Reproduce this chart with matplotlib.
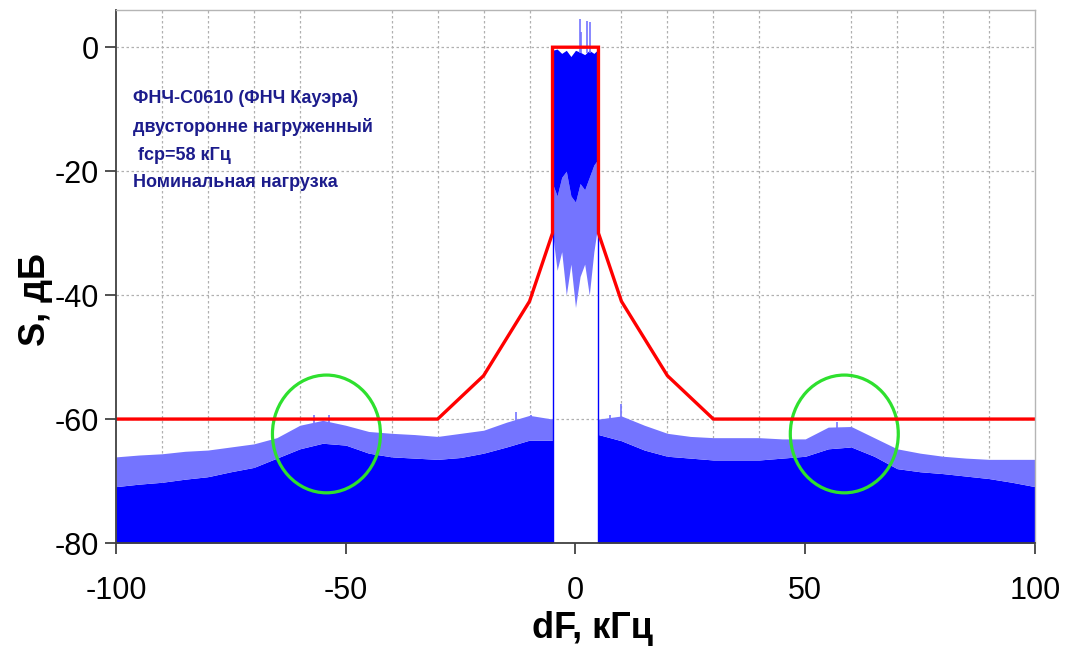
import matplotlib
matplotlib.use('Agg')
import matplotlib.pyplot as plt
from matplotlib.patches import Ellipse
from matplotlib.ticker import MultipleLocator

# маска (красная линия)
mask_f = [-100, -30, -20, -10, -5, -5, 5, 5, 10, 20, 30, 100]
mask_db = [-60, -60, -53, -41, -30, 0, 0, -30, -41, -53, -60, -60]

# левая полоса задерживания: сплошной уровень и вершины шума
left_f = [-100, -95, -90, -85, -80, -75, -70, -65, -60, -55, -50, -45, -40, -35, -30, -25, -20, -15, -10, -5]
left_solid = [-70.9, -70.5, -70.2, -69.7, -69.3, -68.5, -67.8, -66.3, -64.8, -63.9,
              -64.2, -65.5, -66.1, -66.3, -66.5, -66.2, -65.5, -64.5, -63.4, -63.4]
left_peak = [-66.1, -65.8, -65.6, -65.2, -65.0, -64.5, -64.0, -63.0, -61.0, -60.2,
             -61.0, -62.0, -62.3, -62.5, -62.8, -62.3, -61.8, -60.5, -59.4, -60.0]

# правая полоса задерживания
right_f = [5, 10, 15, 20, 25, 30, 35, 40, 45, 50, 55, 60, 65, 70, 75, 80, 85, 90, 95, 100]
right_solid = [-62.5, -63.5, -65.0, -66.0, -66.3, -66.6, -66.6, -66.6, -66.3, -66.0,
               -64.8, -64.5, -66.0, -68.0, -68.5, -68.8, -69.2, -69.6, -70.2, -70.9]
right_peak = [-60.0, -59.5, -61.0, -62.3, -62.8, -63.0, -63.0, -63.0, -63.2, -63.2,
              -61.3, -61.2, -63.0, -64.8, -65.5, -66.0, -66.3, -66.5, -66.5, -66.5]

# отдельные выбросы в полосе задерживания
spike_f = [-56.9, -53.6, -12.9, -9.6, 7.6, 9.8, 57.0]
spike_base = [-63.5, -63.5, -63.0, -62.0, -62.0, -62.5, -63.5]
spike_db = [-59.4, -59.3, -58.8, -59.3, -59.3, -57.5, -60.5]

# полоса пропускания
pass_f = [-5, -4, -3, -2, -1, 0, 1, 2, 3, 4, 5]
pass_top = [-0.5, -0.3, -1.0, -0.5, -1.5, -0.5, -0.8, -1.2, -0.5, -1.0, -0.3]
pass_solid_low = [-22, -24, -21, -20, -24, -25, -22, -23, -21, -19, -18]
pass_fringe_low = [-30, -36, -33, -40, -35, -42, -37, -35, -40, -33, -28]
pass_spike_f = [0.9, 1.3, 2.4, 3.1]
pass_spike_db = [4.6, 2.5, 4.3, 4.0]

edge_f = [-5, 5]

# зелёные окружности
circle_f = [-54.2, 58.5]
circle_db = [-62.4, -62.4]

info = 'ФНЧ-С0610 (ФНЧ Кауэра)\nдвусторонне нагруженный\n fcp=58 кГц\nНоминальная нагрузка'

plt.rcParams['font.family'] = ['Liberation Sans', 'DejaVu Sans']
plt.rcParams['axes.unicode_minus'] = False

fig = plt.figure(figsize=(10.68, 6.46), dpi=100)
ax = fig.add_axes([0.1086, 0.1594, 0.8605, 0.8251])

blue = '#0000ff'
fringe = '#7474ff'

ax.fill_between(left_f, -80, left_solid, color=blue, lw=0)
ax.fill_between(left_f, left_solid, left_peak, color=fringe, lw=0)
ax.fill_between(right_f, -80, right_solid, color=blue, lw=0)
ax.fill_between(right_f, right_solid, right_peak, color=fringe, lw=0)
ax.vlines(spike_f, spike_base, spike_db, color=fringe, lw=1.2)

ax.fill_between(pass_f, pass_fringe_low, pass_solid_low, color=fringe, lw=0)
ax.fill_between(pass_f, pass_solid_low, pass_top, color=blue, lw=0)
ax.vlines(pass_spike_f, -1, pass_spike_db, color=fringe, lw=1.2)
ax.vlines(edge_f, -80, -30, color=blue, lw=1)

ax.plot(mask_f, mask_db, color='#ff0000', lw=2.4, solid_joinstyle='miter')

for cf, cd in zip(circle_f, circle_db):
    ax.add_patch(Ellipse((cf, cd), 23.5, 19.0, fill=False, edgecolor='#2ee02e', lw=2.3))

ax.text(-96.3, -6.9, info, color='#1c1c8c', fontsize=13, fontweight='bold',
        va='top', ha='left', linespacing=1.8)

ax.set_xlim(-100, 100)
ax.set_ylim(-80, 6)
ax.xaxis.set_major_locator(MultipleLocator(50))
ax.xaxis.set_minor_locator(MultipleLocator(10))
ax.set_yticks([0, -20, -40, -60, -80])
ax.grid(True, which='minor', axis='x', color='#b0b0b0', ls=(0, (2, 2)), lw=0.9)
ax.grid(True, which='major', axis='y', color='#b0b0b0', ls=(0, (2, 2)), lw=0.9)
ax.set_axisbelow(True)

ax.tick_params(which='major', direction='out', length=8, width=1.2, color='#333333', labelsize=22)
ax.tick_params(axis='x', which='major', pad=16)
ax.tick_params(axis='y', which='major', pad=4)
ax.tick_params(which='minor', length=0)

for s in ['left', 'bottom']:
    ax.spines[s].set_color('#404040')
    ax.spines[s].set_linewidth(1.3)
for s in ['top', 'right']:
    ax.spines[s].set_color('#b5b5b5')
    ax.spines[s].set_linewidth(1.0)

ax.set_xlabel('dF, кГц', fontsize=26, fontweight='bold')
ax.set_ylabel('S, дБ', fontsize=26, fontweight='bold')
ax.xaxis.set_label_coords(0.518, -0.128)
ax.yaxis.set_label_coords(-0.068, 0.456)

fig.savefig('out.png', dpi=100)
